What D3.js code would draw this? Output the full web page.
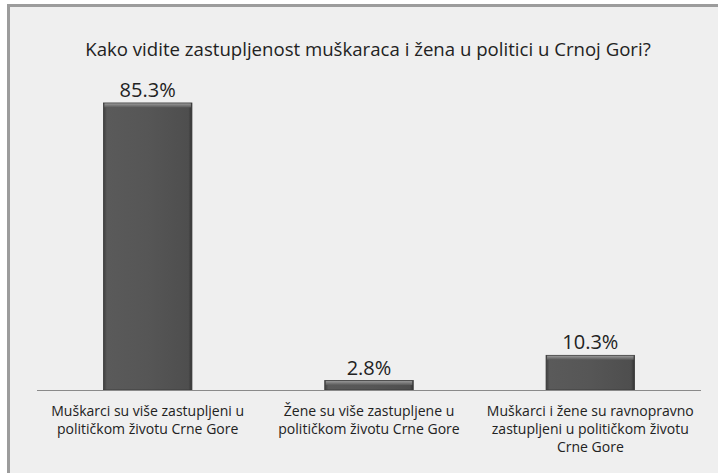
<!DOCTYPE html>
<html><head><meta charset="utf-8">
<script src="https://cdn.jsdelivr.net/npm/d3@7"></script>
<style>html,body{margin:0;padding:0;background:#fff;}svg{display:block;}</style>
</head><body>
<script>
const title = "Kako vidite zastupljenost muškaraca i žena u politici u Crnoj Gori?";
const categories = [
  ["Muškarci su više zastupljeni u", "političkom životu Crne Gore"],
  ["Žene su više zastupljene u", "političkom životu Crne Gore"],
  ["Muškarci i žene su ravnopravno", "zastupljeni u političkom životu", "Crne Gore"]
];
const values = [85.3, 2.8, 10.3];
const valueLabels = ["85.3%", "2.8%", "10.3%"];

const W = 718, H = 473;
const svg = d3.select("body").append("svg").attr("width", W).attr("height", H);
const FONT = "'Open Sans', 'Noto Sans', sans-serif";

// frame
svg.append("rect").attr("x", 7).attr("y", 4).attr("width", W - 7).attr("height", H - 4).attr("fill", "#9c9c9c");
svg.append("rect").attr("x", 10).attr("y", 7).attr("width", W - 10).attr("height", H - 7).attr("fill", "#efefef");

const defs = svg.append("defs");
const g1 = defs.append("linearGradient").attr("id", "barH").attr("x1", 0).attr("x2", 1).attr("y1", 0).attr("y2", 0);
[[0, "#3e3e3e"], [0.04, "#5a5a5a"], [0.5, "#565656"], [0.96, "#4e4e4e"], [1, "#333"]].forEach(([o, c]) =>
  g1.append("stop").attr("offset", o).attr("stop-color", c));
const g2 = defs.append("linearGradient").attr("id", "barTop").attr("x1", 0).attr("x2", 0).attr("y1", 0).attr("y2", 1);
[[0, "#9a9a9a"], [0.5, "#777"], [1, "#5a5a5a"]].forEach(([o, c]) =>
  g2.append("stop").attr("offset", o).attr("stop-color", c));

const x = d3.scaleBand().domain(d3.range(values.length)).range([37, 701]).paddingInner(0.6).paddingOuter(0.3);
const y = d3.scaleLinear().domain([0, 100]).range([390, 53.5]);

// bars
const bars = svg.append("g").selectAll("g").data(values).join("g");
bars.append("rect")
  .attr("x", (d, i) => x(i)).attr("y", d => y(d))
  .attr("width", x.bandwidth()).attr("height", d => y(0) - y(d))
  .attr("fill", "url(#barH)").attr("stroke", "#3a3a3a").attr("stroke-width", 0.8);
bars.append("rect")
  .attr("x", (d, i) => x(i) + 1).attr("y", d => y(d) + 0.5)
  .attr("width", x.bandwidth() - 2).attr("height", d => Math.min(4, (y(0) - y(d)) / 2))
  .attr("fill", "url(#barTop)");

// axis line
svg.append("line").attr("x1", 37).attr("x2", 701).attr("y1", y(0) + 0.5).attr("y2", y(0) + 0.5)
  .attr("stroke", "#8a8a8a").attr("stroke-width", 1.2);

// value labels
svg.append("g").selectAll("text").data(values).join("text")
  .attr("x", (d, i) => x(i) + x.bandwidth() / 2)
  .attr("y", d => y(d) - 6)
  .attr("text-anchor", "middle")
  .attr("font-family", FONT).attr("font-size", 20).attr("fill", "#222")
  .text((d, i) => valueLabels[i]);

// category labels
const cat = svg.append("g").selectAll("text").data(categories).join("text")
  .attr("text-anchor", "middle")
  .attr("font-family", FONT).attr("font-size", 12.5).attr("fill", "#222");
cat.each(function (lines, i) {
  const t = d3.select(this);
  lines.forEach((l, k) => t.append("tspan")
    .attr("x", x(i) + x.bandwidth() / 2).attr("y", 416 + k * 18).text(l));
});
const firstW = cat.filter((d, i) => i === 0).select("tspan").node().getComputedTextLength();
cat.attr("font-size", 12.5 * 193 / firstW);

// title
const tt = svg.append("text").attr("x", 368).attr("y", 56).attr("text-anchor", "middle")
  .attr("font-family", FONT).attr("font-size", 17).attr("fill", "#222").text(title);
const tw = tt.node().getComputedTextLength();
tt.attr("font-size", 17 * 566 / tw);
</script>
</body></html>
